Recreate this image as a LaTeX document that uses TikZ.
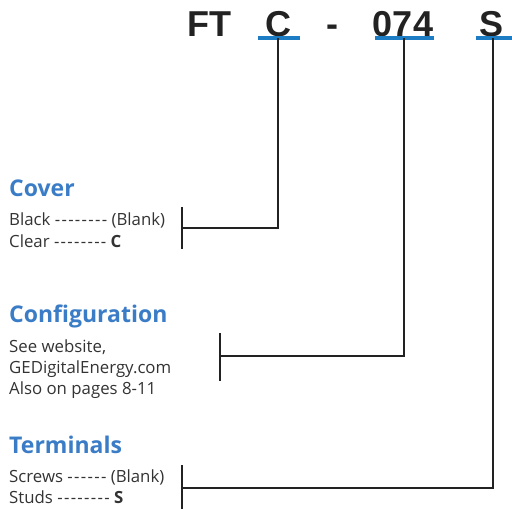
\documentclass[tikz,border=0pt]{standalone}
\usepackage{fontspec}
\setmainfont{Open Sans}
\newfontfamily\codefont{Liberation Sans}
\definecolor{geblue}{HTML}{3A7CC6}
\definecolor{ulblue}{HTML}{1C7CC4}
\definecolor{txt}{HTML}{333333}
\definecolor{ln}{HTML}{222222}
\newcommand{\hy}{-\kern1.3pt}
\begin{document}
\begin{tikzpicture}[x=1pt,y=-1pt,
  code/.style={font=\codefont\bfseries\fontsize{36}{36}\selectfont, text=ln, inner sep=0pt, anchor=base},
  head/.style={font=\bfseries\fontsize{23}{26}\selectfont, text=geblue, inner sep=0pt, anchor=base west},
  body/.style={font=\fontsize{16.8}{21}\selectfont, text=txt, inner sep=0pt, anchor=base west},
  ul/.style={ulblue, line width=4.5pt},
  conn/.style={ln, line width=2.4pt},
  brk/.style={ln, line width=2.6pt}]
\useasboundingbox (0,0) rectangle (512,509);
% code
\node[code] (ft) at (209,36) {FT};
\node[code] (c) at (278,36) {C};
\node[code] (dash) at (332,36) {-};
\node[code] (num) at (403,36) {074};
\node[code] (s) at (492,36) {S};
\coordinate (cu) at (278,38);
\coordinate (nu) at (404,38);
\coordinate (su) at (493,38);
\draw[ul] (258,38) -- (300,38);
\draw[ul] (375,38) -- (434,38);
\draw[ul] (476,38) -- (512,38);
% headings and bodies
\node[head] (cover) at (9,196) {Cover};
\node[body] (black) at (9,225) {Black \hy\hy\hy\hy\hy\hy\hy- (Blank)};
\node[body] (clear) at (9,247) {Clear \hy\hy\hy\hy\hy\hy\hy- \textbf{C}};
\node[head] (config) at (9,322) {Configuration};
\node[body] (see) at (9,352) {See website,};
\node[body] (ge) at (9,373) {GEDigitalEnergy.com};
\node[body] (also) at (9,394) {Also on pages 8-11};
\node[head] (term) at (9,453) {Terminals};
\node[body] (screws) at (9,482) {Screws \hy\hy\hy\hy\hy- (Blank)};
\node[body] (studs) at (9,503) {Studs \hy\hy\hy\hy\hy\hy\hy- \textbf{S}};
% brackets
\coordinate (b1t) at (182,207); \coordinate (b1b) at (182,249); \coordinate (b1m) at (182,228);
\coordinate (b2t) at (220,333); \coordinate (b2b) at (220,381); \coordinate (b2m) at (220,356);
\coordinate (b3t) at (182,465); \coordinate (b3b) at (182,509); \coordinate (b3m) at (182,488);
\draw[brk] (b1t) -- (b1b);
\draw[brk] (b2t) -- (b2b);
\draw[brk] (b3t) -- (b3b);
\draw[conn] (cu) |- (b1m);
\draw[conn] (nu) |- (b2m);
\draw[conn] (su) |- (b3m);
\end{tikzpicture}
\end{document}
